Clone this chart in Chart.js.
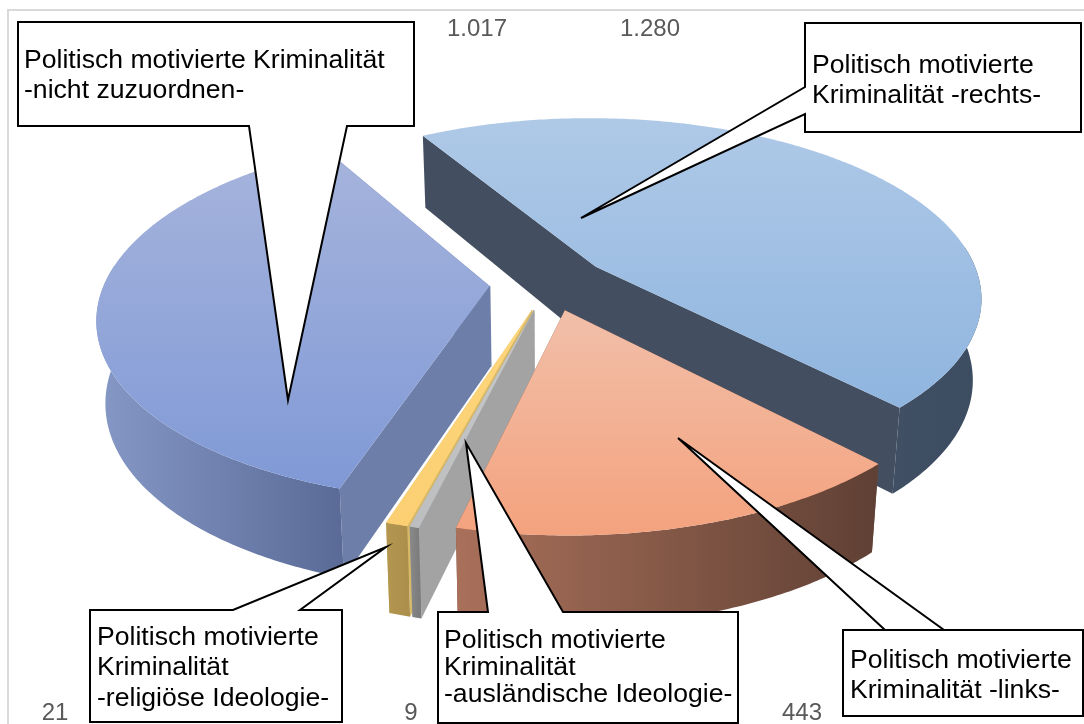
<!DOCTYPE html>
<html lang="de">
<head>
<meta charset="utf-8">
<title>Politisch motivierte Kriminalität</title>
<script src="https://cdn.jsdelivr.net/npm/chart.js@4"></script>
<style>
  html, body { margin: 0; padding: 0; background: #fff; }
  canvas { display: block; }
</style>
</head>
<body>
<canvas id="chart" width="1084" height="724"></canvas>
<script>
const categories = [
  "Politisch motivierte Kriminalität -rechts-",
  "Politisch motivierte Kriminalität -links-",
  "Politisch motivierte Kriminalität -ausländische Ideologie-",
  "Politisch motivierte Kriminalität -religiöse Ideologie-",
  "Politisch motivierte Kriminalität -nicht zuzuordnen-"
];
const values = [1280, 443, 9, 21, 1017];
const valueLabels = ["1.280", "443", "9", "21", "1.017"];

// colours per slice
const topLight = ["#afc9e7", "#f1bfa9", "#c6c8ca", "#fed67c", "#a6b4dc"];
const topDark = ["#8fb5df", "#f4a27e", "#bcbebf", "#fbcf72", "#8099d6"];
const rimLeft = ["#404f63", "#a9705a", "#8a8a8a", "#b3964f", "#8698c6"];
const rimRight = ["#3c4c61", "#5f4034", "#7c7c7c", "#ad8f4c", "#5a6b98"];
const cutColor = ["#434f61", "#7a5040", "#a3a3a3", "#d8b968", "#6d7fa9"];

// where the value labels sit in the picture (same order as values)
const labelX = [650, 802, 411, 55, 477];
const labelY = [36, 720, 720, 720, 36];

// speech-bubble callouts, same order as values
const callouts = [
  { path: [[805, 23], [1081, 23], [1081, 132], [805, 132], [805, 114], [581, 218], [805, 87]],
    x: 812, y: [73, 103], lines: ["Politisch motivierte", "Kriminalität -rechts-"] },
  { path: [[843, 630], [944, 630], [678, 438], [885, 630], [1083, 630], [1083, 716], [843, 716]],
    x: 850, y: [668, 698], lines: ["Politisch motivierte", "Kriminalität -links-"] },
  { path: [[438, 612], [488, 612], [466, 443], [563, 612], [738, 612], [738, 723], [438, 723]],
    x: 444, y: [648, 675, 702], lines: ["Politisch motivierte", "Kriminalität", "-ausländische Ideologie-"] },
  { path: [[90, 610], [233, 610], [386, 547], [300, 610], [342, 610], [342, 722], [90, 722]],
    x: 97, y: [645, 675, 706], lines: ["Politisch motivierte", "Kriminalität", "-religiöse Ideologie-"] },
  { path: [[18, 22], [414, 22], [414, 126], [347, 126], [288, 400], [249, 126], [18, 126]],
    x: 24, y: [68, 98], lines: ["Politisch motivierte Kriminalität", "-nicht zuzuordnen-"] }
];

const FONT = '26.6px "Liberation Sans", Arial, sans-serif';
const LABEL_FONT = '24px "Liberation Sans", Arial, sans-serif';
const paintOrder = [0, 4, 3, 2, 1]; // back to front

// view settings for the tilted pie
const view = { cx: 549, cy: 283, rx: 385, ry: 178, persp: 0.165, shrink: 0.02, depth: 80.5, depthV: 9 };

function project(u, v, z) {
  const f = 1 - view.persp * v;
  const x = view.rx * u / f * (1 - view.shrink * z);
  const y = view.ry * v / f + z * (view.depth + view.depthV * v);
  return [view.cx + x, view.cy + y];
}

function point(arc, angle, r, z) {
  const mid = (arc.startAngle + arc.endAngle) / 2;
  const off = arc.options.offset / arc.outerRadius;
  return project(off * Math.cos(mid) + r * Math.cos(angle), off * Math.sin(mid) + r * Math.sin(angle), z);
}

function rimAngles(arc) {
  const out = [];
  const n = Math.max(2, Math.ceil((arc.endAngle - arc.startAngle) * 90));
  for (let i = 0; i <= n; i++) {
    out.push(arc.startAngle + (arc.endAngle - arc.startAngle) * i / n);
  }
  return out;
}

function fillPoly(ctx, pts, fill) {
  ctx.beginPath();
  pts.forEach((p, i) => (i ? ctx.lineTo(p[0], p[1]) : ctx.moveTo(p[0], p[1])));
  ctx.closePath();
  ctx.fillStyle = fill;
  ctx.fill();
}

function drawCuts(ctx, arc, color) {
  const apexTop = point(arc, 0, 0, 0);
  const apexBottom = point(arc, 0, 0, 1);
  [arc.startAngle, arc.endAngle].forEach(a => {
    fillPoly(ctx, [apexTop, point(arc, a, 1, 0), point(arc, a, 1, 1), apexBottom], color);
  });
  // hide the seam where the two faces meet
  ctx.beginPath();
  ctx.moveTo(apexTop[0], apexTop[1]);
  ctx.lineTo(apexBottom[0], apexBottom[1]);
  ctx.strokeStyle = color;
  ctx.lineWidth = 1.5;
  ctx.stroke();
}

function drawSlice(ctx, arc, i) {
  const angles = rimAngles(arc);

  drawCuts(ctx, arc, cutColor[i]);

  // outer wall, only the part facing the viewer
  const front = angles.filter(a => Math.sin(a) > -0.12);
  if (front.length > 1) {
    const up = front.map(a => point(arc, a, 1, 0));
    const down = front.map(a => point(arc, a, 1, 1));
    const xs = up.map(p => p[0]);
    const wall = ctx.createLinearGradient(Math.min(...xs), 0, Math.max(...xs), 0);
    wall.addColorStop(0, rimLeft[i]);
    wall.addColorStop(1, rimRight[i]);
    fillPoly(ctx, up.concat(down.reverse()), wall);
  }

  // top face
  const face = [point(arc, 0, 0, 0)].concat(angles.map(a => point(arc, a, 1, 0)));
  const ys = face.map(p => p[1]);
  const grad = ctx.createLinearGradient(0, Math.min(...ys), 0, Math.max(...ys));
  grad.addColorStop(0, topLight[i]);
  grad.addColorStop(1, topDark[i]);
  fillPoly(ctx, face, grad);
}

const pie3d = {
  id: "pie3d",
  beforeDraw(chart) {
    // thin chart frame, runs off the right and bottom of the picture
    const ctx = chart.ctx;
    ctx.save();
    ctx.strokeStyle = "#d9d9d9";
    ctx.lineWidth = 2;
    ctx.beginPath();
    ctx.moveTo(8, 724);
    ctx.lineTo(8, 10);
    ctx.lineTo(1084, 10);
    ctx.stroke();
    ctx.restore();
  },
  beforeDatasetDraw(chart) {
    const ctx = chart.ctx;
    const arcs = chart.getDatasetMeta(0).data;
    ctx.save();
    paintOrder.forEach(i => drawSlice(ctx, arcs[i], i));
    ctx.restore();
    return false;
  },
  afterDatasetsDraw(chart) {
    const ctx = chart.ctx;
    ctx.save();
    ctx.font = LABEL_FONT;
    ctx.textAlign = "center";
    ctx.textBaseline = "alphabetic";
    ctx.fillStyle = "#595959";
    valueLabels.forEach((t, i) => ctx.fillText(t, labelX[i], labelY[i]));

    ctx.font = FONT;
    ctx.textAlign = "left";
    callouts.forEach(c => {
      ctx.beginPath();
      c.path.forEach((p, i) => (i ? ctx.lineTo(p[0], p[1]) : ctx.moveTo(p[0], p[1])));
      ctx.closePath();
      ctx.fillStyle = "#fff";
      ctx.fill();
      ctx.strokeStyle = "#000";
      ctx.lineWidth = 2;
      ctx.stroke();
      ctx.fillStyle = "#000";
      c.lines.forEach((l, i) => ctx.fillText(l, c.x, c.y[i]));
    });
    ctx.restore();
  }
};

new Chart(document.getElementById("chart"), {
  type: "pie",
  data: {
    labels: categories,
    datasets: [{
      data: values,
      backgroundColor: topDark,
      borderWidth: 0,
      offset: 52
    }]
  },
  options: {
    responsive: false,
    animation: false,
    rotation: -30.2,
    plugins: { legend: { display: false }, tooltip: { enabled: false } }
  },
  plugins: [pie3d]
});
</script>
</body>
</html>
